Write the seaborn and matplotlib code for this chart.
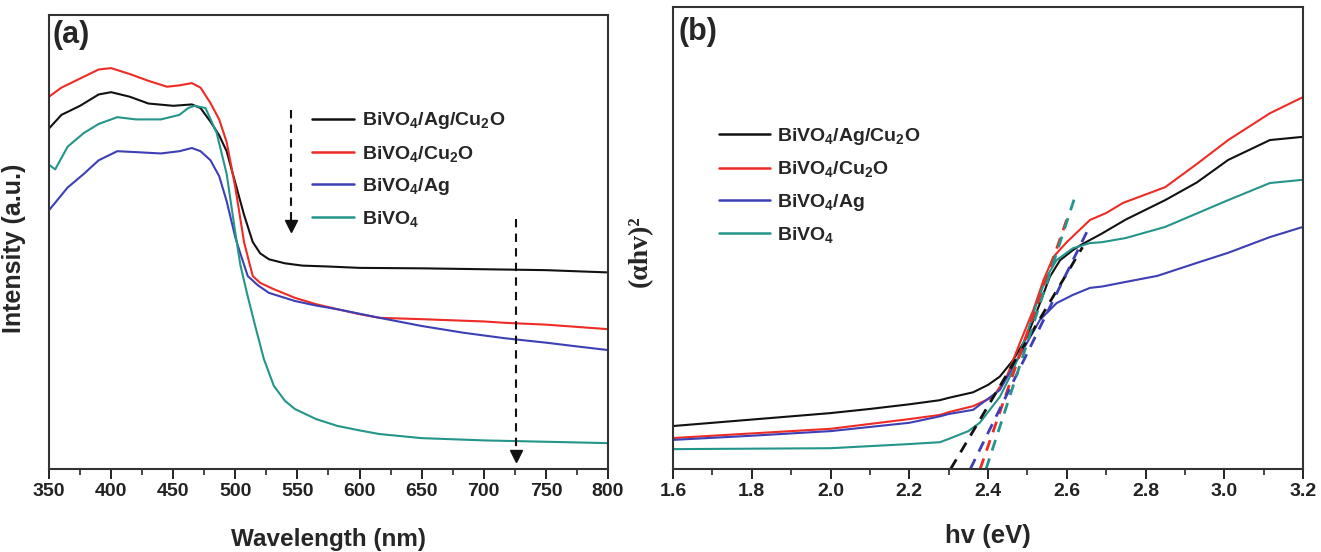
import pandas as pd
import matplotlib
matplotlib.use("Agg")
import matplotlib.pyplot as plt
from matplotlib.ticker import AutoMinorLocator, FormatStrFormatter
import seaborn as sns

sns.set_style("ticks")
plt.rcParams['font.family'] = ['Liberation Sans', 'DejaVu Sans']
plt.rcParams['font.weight'] = 'bold'
plt.rcParams['mathtext.fontset'] = 'custom'
plt.rcParams['mathtext.rm'] = 'Liberation Sans:bold'
plt.rcParams['mathtext.bf'] = 'Liberation Sans:bold'
plt.rcParams['mathtext.it'] = 'Liberation Sans:bold'
plt.rcParams['mathtext.default'] = 'bf'

labels = ["BiVO$_4$/Ag/Cu$_2$O", "BiVO$_4$/Cu$_2$O", "BiVO$_4$/Ag", "BiVO$_4$"]
colors = ["#111111", "#ee2b24", "#3c3fb5", "#23958a"]

# (a) UV-vis spectra, wavelength in nm, intensity in a.u.
wl_black = [350, 360, 375, 390, 400, 415, 430, 450, 465, 472, 480, 487, 493, 500, 507, 514, 520, 527, 540, 554, 575, 600, 650, 700, 750, 800]
int_black = [75, 78, 80, 82.5, 83, 82, 80.5, 80, 80.3, 79.5, 76.5, 73.5, 70, 63, 56, 50, 47.5, 46.2, 45.3, 44.8, 44.6, 44.3, 44.2, 44, 43.8, 43.3]

wl_red = [350, 360, 375, 390, 400, 415, 430, 445, 455, 465, 472, 480, 487, 493, 500, 507, 514, 520, 531, 548, 565, 582, 600, 616, 650, 700, 717, 750, 800]
int_red = [82, 84, 86, 88, 88.3, 87, 85.5, 84.2, 84.5, 85, 84, 80.6, 77, 72, 62, 50, 42.5, 41, 39.6, 37.7, 36.3, 35.2, 34.1, 33.3, 33, 32.5, 32.2, 31.8, 30.8]

wl_blue = [350, 365, 378, 390, 405, 420, 440, 455, 465, 472, 480, 487, 493, 500, 504, 510, 518, 527, 548, 565, 582, 600, 616, 633, 650, 684, 717, 751, 775, 800]
int_blue = [57, 62, 65, 68, 70, 69.8, 69.5, 70, 70.7, 70, 68, 64.5, 59, 51, 47.5, 42.5, 40.5, 38.8, 37, 36, 35.2, 34.2, 33.3, 32.4, 31.5, 30, 28.8, 27.8, 27, 26.2]

wl_teal = [350, 355, 365, 378, 390, 405, 420, 440, 455, 462, 467, 476, 485, 493, 500, 504, 510, 516, 523, 531, 540, 548, 565, 582, 600, 616, 650, 700, 750, 800]
int_teal = [67, 66, 71, 74, 76, 77.5, 77, 77, 78, 79.5, 80, 79.5, 74, 65, 52, 45, 38, 31.5, 24.2, 18.3, 15, 13.2, 11, 9.5, 8.5, 7.7, 6.8, 6.3, 6, 5.7]

# dashed arrows in (a): x, start, tip
arrow_x = [545, 726]
arrow_start = [79, 55]
arrow_tip = [52, 1.3]

# (b) Tauc plot, photon energy in eV
ev_black = [1.6, 1.8, 2.0, 2.1, 2.2, 2.278, 2.3, 2.362, 2.4, 2.43, 2.464, 2.499, 2.532, 2.557, 2.583, 2.616, 2.636, 2.69, 2.75, 2.85, 2.93, 3.01, 3.116, 3.2]
tauc_black = [9.3, 10.7, 12.1, 13, 14, 14.9, 15.4, 16.6, 18.2, 20, 23.6, 28.6, 35.9, 41.6, 45.2, 47.4, 48.5, 51, 54, 58.2, 62, 66.9, 71.2, 71.9]

ev_red = [1.6, 1.8, 2.0, 2.2, 2.278, 2.3, 2.362, 2.413, 2.447, 2.481, 2.515, 2.541, 2.566, 2.6, 2.659, 2.7, 2.743, 2.85, 2.93, 3.01, 3.116, 3.2]
tauc_red = [6.7, 7.7, 8.7, 10.8, 11.7, 12.3, 13.6, 15.6, 19.9, 27.3, 34.4, 40.9, 45.9, 49.1, 53.9, 55.4, 57.6, 61, 66, 71.2, 77, 80.5]

ev_blue = [1.6, 1.8, 2.0, 2.2, 2.278, 2.3, 2.362, 2.43, 2.464, 2.499, 2.532, 2.574, 2.616, 2.659, 2.69, 2.75, 2.83, 2.93, 3.01, 3.116, 3.2]
tauc_blue = [6.3, 7.2, 8.2, 10, 11.4, 11.9, 12.8, 17.1, 22.1, 27.3, 32.3, 35.9, 37.7, 39.2, 39.5, 40.5, 41.8, 44.6, 46.8, 50.2, 52.4]

ev_teal = [1.6, 1.8, 2.0, 2.2, 2.278, 2.3, 2.35, 2.379, 2.43, 2.464, 2.499, 2.524, 2.549, 2.574, 2.616, 2.659, 2.69, 2.75, 2.85, 2.93, 3.01, 3.116, 3.2]
tauc_teal = [4.3, 4.4, 4.5, 5.4, 5.8, 6.5, 8.2, 10, 15.6, 21.4, 29.4, 35.9, 41.6, 45.2, 47.8, 48.9, 49.1, 50, 52.4, 55.3, 58.2, 61.9, 62.6]

# tangent (band gap) lines in (b): x intercept, upper end x, upper end value
tan_x0 = [2.305, 2.38, 2.355, 2.395]
tan_x1 = [2.64, 2.60, 2.655, 2.625]
tan_top = [48, 54, 52, 60]

def long_df(xs, ys, xname, yname):
    parts = []
    for lab, x, y in zip(labels, xs, ys):
        parts.append(pd.DataFrame({xname: x, yname: y, "sample": lab}))
    return pd.concat(parts, ignore_index=True)

df_a = long_df([wl_black, wl_red, wl_blue, wl_teal], [int_black, int_red, int_blue, int_teal], "wl", "intensity")
df_b = long_df([ev_black, ev_red, ev_blue, ev_teal], [tauc_black, tauc_red, tauc_blue, tauc_teal], "ev", "tauc")

fig = plt.figure(figsize=(13.21, 5.52), dpi=100)
ax1 = fig.add_axes([49 / 1321, 83 / 552, 559 / 1321, 454 / 552])
ax2 = fig.add_axes([673 / 1321, 83 / 552, 630 / 1321, 462 / 552])

palette = dict(zip(labels, colors))

sns.lineplot(data=df_a, x="wl", y="intensity", hue="sample", hue_order=labels, palette=palette,
             estimator=None, sort=False, lw=1.5, ax=ax1)
sns.lineplot(data=df_b, x="ev", y="tauc", hue="sample", hue_order=labels, palette=palette,
             estimator=None, sort=False, lw=1.5, ax=ax2)

# dashed arrows
for x, y0, y1 in zip(arrow_x, arrow_start, arrow_tip):
    ax1.plot([x, x], [y0, y1 + 2], color="#111111", lw=1.5, dashes=(4, 3))
    ax1.plot([x], [y1 + 1.5], marker="v", color="#111111", markersize=8)

# tangent lines
for x0, x1, top, c in zip(tan_x0, tan_x1, tan_top, colors):
    ax2.plot([x0, x1], [0, top], color=c, lw=2, dashes=(4, 3))

for ax, title_txt, lx, ly in [(ax1, "(a)", 0.006, 0.99), (ax2, "(b)", 0.009, 0.978)]:
    ax.set_yticks([])
    for s in ax.spines.values():
        s.set_linewidth(1.5)
        s.set_color("#333333")
        s.set_visible(True)
    ax.tick_params(axis="x", which="major", direction="out", length=7, width=1.4, labelsize=14, pad=3, colors="#222222")
    ax.tick_params(axis="x", which="minor", direction="out", length=4, width=1.2)
    ax.xaxis.set_minor_locator(AutoMinorLocator(2))
    ax.text(lx, ly, title_txt, transform=ax.transAxes, ha="left", va="top", fontsize=22, fontweight="bold")
    ax.set_ylim(0, 100)

ax1.set_xlim(350, 800)
ax1.set_xticks(range(350, 801, 50))
ax2.set_xlim(1.6, 3.2)
ax2.set_xticks([1.6, 1.8, 2.0, 2.2, 2.4, 2.6, 2.8, 3.0, 3.2])
ax2.xaxis.set_major_formatter(FormatStrFormatter("%.1f"))
for ax in (ax1, ax2):
    for t in ax.get_xticklabels():
        t.set_fontweight("bold")

ax1.set_xlabel("Wavelength (nm)", fontsize=17.5, fontweight="bold")
ax1.set_ylabel("Intensity (a.u.)", fontsize=18, fontweight="bold")
ax1.xaxis.set_label_coords(0.5, -0.13)
ax1.yaxis.set_label_coords(-0.042, 0.485)

ax2.set_xlabel("hv (eV)", fontsize=18.5, fontweight="bold")
ax2.set_ylabel("(αhv)²", fontsize=20, fontweight="bold", family=["Liberation Serif", "DejaVu Serif"])
ax2.xaxis.set_label_coords(0.5, -0.118)
ax2.yaxis.set_label_coords(-0.032, 0.472)

# legends
for ax, anchor, hl in [(ax1, (0.47, 0.79), 2.16), (ax2, (0.073, 0.742), 2.6)]:
    old = ax.get_legend()
    handles = old.legend_handles
    for h in handles:
        h.set_linewidth(1.8)
    ax.legend(handles, labels, loc="upper left", bbox_to_anchor=anchor, frameon=False,
              fontsize=14, handlelength=hl, handletextpad=0.4, labelspacing=0.63,
              borderaxespad=0, borderpad=0)

fig.savefig("out.png", dpi=100, facecolor="white")
